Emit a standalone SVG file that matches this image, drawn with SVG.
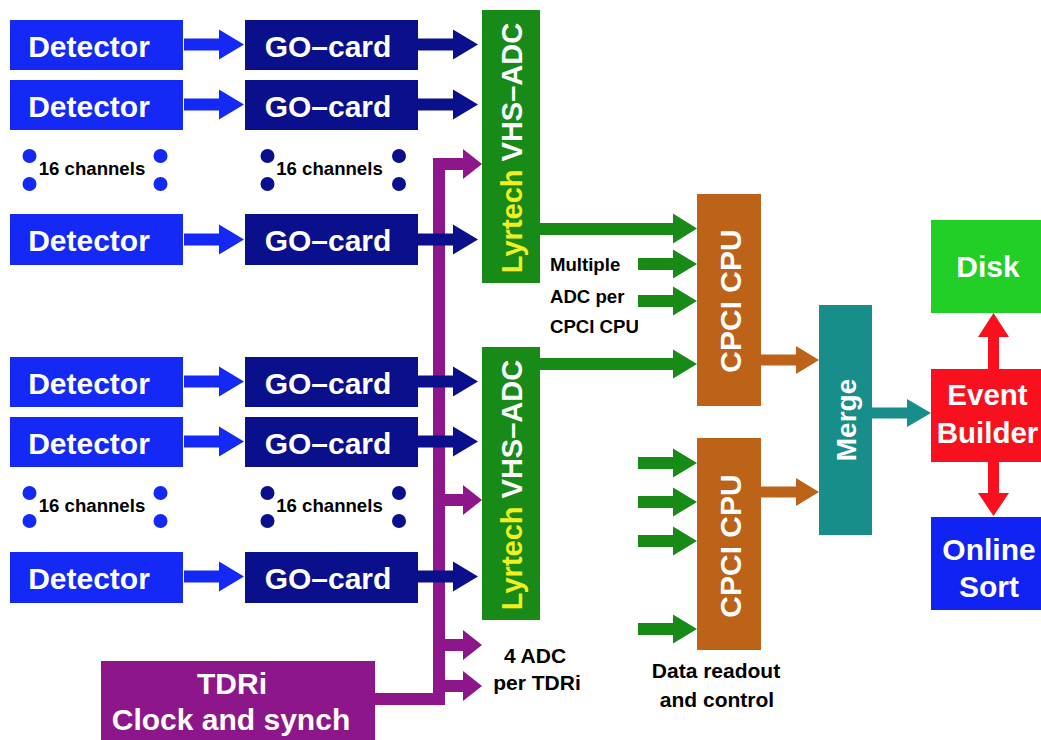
<svg xmlns="http://www.w3.org/2000/svg" width="1041" height="740" viewBox="0 0 1041 740">
<style>
text{font-family:"Liberation Sans",Arial,Helvetica,sans-serif;font-weight:bold}
.w{fill:#fff}
.k{fill:#000}
.big{font-size:30px}
.lbl{font-size:18.6px}
.lbl2{font-size:21px}
.det{fill:#1429F6}
.go{fill:#0A0F8C}
.adc{fill:#178A17}
.cpu{fill:#BD6219}
.mrg{fill:#178E8A}
.pur{fill:#8E168B}
.gar{fill:#178A17}
.red{fill:#F8101E}
.disk{fill:#21CF27}
.sort{fill:#1122F5}
</style>
<defs>
<polygon id="arr" points="0,-6 35,-6 35,-15 60,0 35,15 35,6 0,6"/>
<polygon id="sarr" points="0,-6 35,-6 35,-14.5 59,0 35,14.5 35,6 0,6"/>
<polygon id="parr" points="0,-6 18,-6 18,-15 37,0 18,15 18,6 0,6"/>
</defs>

<g id="connectors">
  <!-- purple clock distribution -->
  <g class="pur">
    <rect x="433" y="158" width="12" height="547"/>
    <rect x="375" y="693" width="70" height="12"/>
    <use href="#parr" x="445" y="164"/>
    <use href="#parr" x="445" y="500"/>
    <use href="#parr" x="445" y="645"/>
    <use href="#parr" x="445" y="686"/>
  </g>
  <!-- detector -> GO-card -->
  <g class="det">
    <use href="#arr" x="184" y="44.5"/>
    <use href="#arr" x="184" y="104.5"/>
    <use href="#arr" x="184" y="239.5"/>
    <use href="#arr" x="184" y="381.5"/>
    <use href="#arr" x="184" y="441.5"/>
    <use href="#arr" x="184" y="576.5"/>
  </g>
  <!-- GO-card -> ADC -->
  <g class="go">
    <use href="#arr" x="418" y="44.5"/>
    <use href="#arr" x="418" y="104.5"/>
    <use href="#arr" x="418" y="239.5"/>
    <use href="#arr" x="418" y="381.5"/>
    <use href="#arr" x="418" y="441.5"/>
    <use href="#arr" x="418" y="576.5"/>
  </g>
  <!-- ADC -> CPCI -->
  <g class="gar">
    <polygon points="540,223 673,223 673,213.5 697,228.5 673,243.5 673,235 540,235"/>
    <polygon points="540,358 673,358 673,349.5 697,364 673,378.5 673,370 540,370"/>
    <use href="#sarr" x="638" y="264"/>
    <use href="#sarr" x="638" y="301"/>
    <use href="#sarr" x="638" y="463"/>
    <use href="#sarr" x="638" y="502"/>
    <use href="#sarr" x="638" y="541"/>
    <use href="#sarr" x="638" y="629"/>
  </g>
  <!-- CPCI -> Merge -->
  <g class="cpu">
    <polygon points="761,354.5 796,354.5 796,346 819,360 796,374 796,365.5 761,365.5"/>
    <polygon points="761,486.5 796,486.5 796,478 819,492 796,506 796,497.5 761,497.5"/>
  </g>
  <!-- Merge -> Event Builder -->
  <polygon class="mrg" points="872,407.5 907,407.5 907,399 931,413 907,427 907,418.5 872,418.5"/>
  <!-- Event Builder <-> Disk / Online Sort -->
  <g class="red">
    <polygon points="988,369 988,337 978,337 993.5,313 1009,337 999,337 999,369"/>
    <polygon points="988,462 988,493 978,493 993.5,516 1009,493 999,493 999,462"/>
  </g>
</g>

<g id="detector1"><rect class="det" x="10" y="20" width="173" height="50"/><text class="w big" x="89" y="56.5" text-anchor="middle">Detector</text></g>
<g id="detector2"><rect class="det" x="10" y="80" width="173" height="50"/><text class="w big" x="89" y="116.5" text-anchor="middle">Detector</text></g>
<g id="detector3"><rect class="det" x="10" y="214" width="173" height="51"/><text class="w big" x="89" y="251" text-anchor="middle">Detector</text></g>
<g id="detector4"><rect class="det" x="10" y="357" width="173" height="50"/><text class="w big" x="89" y="393.5" text-anchor="middle">Detector</text></g>
<g id="detector5"><rect class="det" x="10" y="417" width="173" height="50"/><text class="w big" x="89" y="453.5" text-anchor="middle">Detector</text></g>
<g id="detector6"><rect class="det" x="10" y="552" width="173" height="51"/><text class="w big" x="89" y="588.5" text-anchor="middle">Detector</text></g>

<g id="gocard1"><rect class="go" x="245" y="20" width="173" height="50"/><text class="w big" x="328" y="56.5" text-anchor="middle">GO–card</text></g>
<g id="gocard2"><rect class="go" x="245" y="80" width="173" height="50"/><text class="w big" x="328" y="116.5" text-anchor="middle">GO–card</text></g>
<g id="gocard3"><rect class="go" x="245" y="214" width="173" height="51"/><text class="w big" x="328" y="251" text-anchor="middle">GO–card</text></g>
<g id="gocard4"><rect class="go" x="245" y="357" width="173" height="50"/><text class="w big" x="328" y="393.5" text-anchor="middle">GO–card</text></g>
<g id="gocard5"><rect class="go" x="245" y="417" width="173" height="50"/><text class="w big" x="328" y="453.5" text-anchor="middle">GO–card</text></g>
<g id="gocard6"><rect class="go" x="245" y="552" width="173" height="51"/><text class="w big" x="328" y="588.5" text-anchor="middle">GO–card</text></g>

<g id="channels-upper">
  <g class="det"><circle cx="29.5" cy="156" r="7"/><circle cx="29.5" cy="184" r="7"/><circle cx="160.5" cy="156" r="7"/><circle cx="160.5" cy="184" r="7"/></g>
  <text class="k lbl" x="92" y="175" text-anchor="middle">16 channels</text>
  <g class="go"><circle cx="267.5" cy="156" r="7"/><circle cx="267.5" cy="184" r="7"/><circle cx="399" cy="156" r="7"/><circle cx="399" cy="184" r="7"/></g>
  <text class="k lbl" x="329.5" y="175" text-anchor="middle">16 channels</text>
</g>
<g id="channels-lower">
  <g class="det"><circle cx="29.5" cy="493" r="7"/><circle cx="29.5" cy="521" r="7"/><circle cx="160.5" cy="493" r="7"/><circle cx="160.5" cy="521" r="7"/></g>
  <text class="k lbl" x="92" y="512" text-anchor="middle">16 channels</text>
  <g class="go"><circle cx="267.5" cy="493" r="7"/><circle cx="267.5" cy="521" r="7"/><circle cx="399" cy="493" r="7"/><circle cx="399" cy="521" r="7"/></g>
  <text class="k lbl" x="329.5" y="512" text-anchor="middle">16 channels</text>
</g>

<g id="adc1"><rect class="adc" x="482" y="10" width="58" height="273"/>
  <text class="w" font-size="29" transform="translate(522,148) rotate(-90)" text-anchor="middle"><tspan fill="#F0F020">Lyrtech</tspan> VHS–ADC</text></g>
<g id="adc2"><rect class="adc" x="482" y="347" width="58" height="273"/>
  <text class="w" font-size="29" transform="translate(522,485) rotate(-90)" text-anchor="middle"><tspan fill="#F0F020">Lyrtech</tspan> VHS–ADC</text></g>

<g id="note-multiple">
  <text class="k lbl" x="550" y="271">Multiple</text>
  <text class="k lbl" x="550" y="303">ADC per</text>
  <text class="k lbl" x="550" y="333">CPCI CPU</text>
</g>

<g id="cpu1"><rect class="cpu" x="697" y="194" width="64" height="212"/>
  <text class="w big" transform="translate(741,301) rotate(-90)" text-anchor="middle">CPCI CPU</text></g>
<g id="cpu2"><rect class="cpu" x="697" y="438" width="64" height="212"/>
  <text class="w big" transform="translate(741,546) rotate(-90)" text-anchor="middle">CPCI CPU</text></g>

<g id="note-readout">
  <text class="k lbl2" x="716" y="678" text-anchor="middle">Data readout</text>
  <text class="k lbl2" x="717" y="707" text-anchor="middle">and control</text>
</g>

<g id="merge"><rect class="mrg" x="819" y="305" width="53" height="230"/>
  <text class="w" font-size="28" transform="translate(856,420) rotate(-90)" text-anchor="middle">Merge</text></g>

<g id="eventbuilder"><rect class="red" x="931" y="369" width="110" height="93"/>
  <text class="w" font-size="29.5" x="987.5" y="405" text-anchor="middle">Event</text>
  <text class="w" font-size="29.5" x="987.5" y="443" text-anchor="middle">Builder</text></g>

<g id="disk"><rect class="disk" x="931" y="220" width="110" height="93"/>
  <text class="w big" x="988" y="277" text-anchor="middle">Disk</text></g>

<g id="onlinesort"><rect class="sort" x="931" y="517" width="110" height="93"/>
  <text class="w big" x="989" y="560" text-anchor="middle">Online</text>
  <text class="w big" x="989" y="597" text-anchor="middle">Sort</text></g>

<g id="tdri"><rect class="pur" x="101" y="661" width="274" height="79"/>
  <text class="w big" x="232" y="694" text-anchor="middle">TDRi</text>
  <text class="w big" x="231" y="730" text-anchor="middle">Clock and synch</text></g>

<g id="note-tdri">
  <text class="k lbl2" x="535" y="663" text-anchor="middle">4 ADC</text>
  <text class="k lbl2" x="537" y="690" text-anchor="middle">per TDRi</text>
</g>
</svg>
